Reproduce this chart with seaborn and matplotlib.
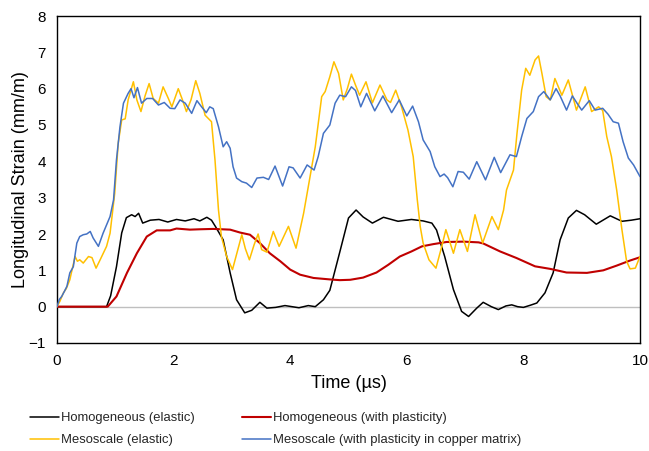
import numpy as np
import pandas as pd
import matplotlib
matplotlib.use("Agg")
import matplotlib.pyplot as plt
import seaborn as sns

# ---- data ----
t_homog_el = [0, 0.85, 0.92, 1.02, 1.11, 1.19, 1.28, 1.34, 1.40, 1.47, 1.6, 1.75, 1.9, 2.05, 2.2, 2.35, 2.45,
              2.57, 2.65, 2.72, 2.85, 2.97, 3.08, 3.22, 3.34, 3.48, 3.6, 3.75, 3.91, 4.03, 4.15, 4.31, 4.43,
              4.57, 4.68, 4.85, 5.0, 5.13, 5.25, 5.41, 5.6, 5.85, 6.08, 6.28, 6.43, 6.51, 6.65, 6.8, 6.94,
              7.06, 7.2, 7.31, 7.45, 7.57, 7.7, 7.8, 7.9, 8.0, 8.12, 8.23, 8.37, 8.51, 8.63, 8.77, 8.91,
              9.05, 9.25, 9.49, 9.69, 9.85, 10.0]
v_homog_el = [0, 0, 0.3, 1.1, 2.03, 2.45, 2.53, 2.48, 2.57, 2.30, 2.38, 2.40, 2.33, 2.40, 2.36, 2.42, 2.36,
              2.46, 2.38, 2.2, 1.84, 0.93, 0.19, -0.17, -0.10, 0.12, -0.04, -0.02, 0.03, 0.0, -0.03, 0.03, 0.0,
              0.19, 0.45, 1.5, 2.44, 2.66, 2.47, 2.30, 2.46, 2.35, 2.40, 2.36, 2.30, 2.11, 1.38, 0.47, -0.13,
              -0.27, -0.04, 0.12, 0.0, -0.08, 0.02, 0.05, 0.0, -0.02, 0.04, 0.10, 0.38, 0.93, 1.84, 2.44, 2.65,
              2.53, 2.27, 2.5, 2.35, 2.38, 2.42]

t_homog_pl = [0, 0.87, 1.02, 1.2, 1.37, 1.54, 1.71, 1.94, 2.05, 2.28, 2.45, 2.68, 2.97, 3.14, 3.31, 3.48,
              3.65, 3.83, 4.0, 4.17, 4.4, 4.68, 4.85, 5.03, 5.25, 5.48, 5.68, 5.88, 6.08, 6.26, 6.45, 6.68,
              6.97, 7.23, 7.31, 7.6, 7.88, 8.2, 8.46, 8.74, 9.09, 9.37, 9.6, 9.83, 10.0]
v_homog_pl = [0, 0, 0.28, 0.93, 1.47, 1.93, 2.10, 2.10, 2.15, 2.12, 2.13, 2.14, 2.12, 2.04, 1.98, 1.75,
              1.47, 1.25, 1.02, 0.88, 0.79, 0.75, 0.73, 0.74, 0.80, 0.94, 1.15, 1.38, 1.52, 1.66, 1.72, 1.78,
              1.79, 1.77, 1.74, 1.52, 1.34, 1.11, 1.04, 0.94, 0.93, 1.0, 1.13, 1.27, 1.36]

t_meso_el = [0, 0.05, 0.11, 0.16, 0.22, 0.31, 0.35, 0.39, 0.45, 0.54, 0.6, 0.67, 0.74, 0.85, 0.91, 0.99,
             1.05, 1.11, 1.17, 1.22, 1.31, 1.37, 1.44, 1.51, 1.58, 1.65, 1.74, 1.82, 1.91, 1.97, 2.08, 2.15,
             2.22, 2.30, 2.38, 2.45, 2.54, 2.65, 2.71, 2.77, 2.82, 2.91, 3.01, 3.09, 3.17, 3.23, 3.3, 3.38,
             3.45, 3.51, 3.6, 3.71, 3.81, 3.97, 4.1, 4.23, 4.31, 4.43, 4.54, 4.6, 4.68, 4.75, 4.83, 4.91,
             4.98, 5.05, 5.12, 5.19, 5.3, 5.41, 5.54, 5.66, 5.72, 5.81, 5.91, 6.02, 6.11, 6.18, 6.23, 6.28,
             6.38, 6.5, 6.6, 6.67, 6.8, 6.91, 7.04, 7.17, 7.3, 7.46, 7.57, 7.66, 7.71, 7.83, 7.89, 7.97,
             8.04, 8.11, 8.2, 8.26, 8.32, 8.39, 8.46, 8.54, 8.66, 8.77, 8.91, 9.06, 9.17, 9.29, 9.36, 9.43,
             9.51, 9.6, 9.69, 9.77, 9.83, 9.92, 10.0]
v_meso_el = [0, 0.15, 0.38, 0.5, 0.74, 1.38, 1.25, 1.29, 1.2, 1.38, 1.35, 1.06, 1.29, 1.66, 2.02, 3.12,
             4.5, 5.14, 5.17, 5.69, 6.19, 5.69, 5.37, 5.8, 6.14, 5.73, 5.6, 6.05, 5.73, 5.5, 6.0, 5.7,
             5.37, 5.7, 6.22, 5.87, 5.27, 5.09, 4.04, 2.66, 1.93, 1.38, 1.02, 1.5, 1.98, 1.6, 1.29, 1.7,
             2.0, 1.57, 1.5, 2.07, 1.66, 2.21, 1.61, 2.57, 3.3, 4.4, 5.78, 5.92, 6.33, 6.74, 6.42, 5.69,
             6.0, 6.4, 6.1, 5.82, 6.19, 5.61, 6.1, 5.69, 5.62, 5.96, 5.5, 4.86, 4.13, 2.94, 2.21, 1.75,
             1.29, 1.06, 1.66, 2.12, 1.47, 2.12, 1.52, 2.53, 1.75, 2.48, 2.12, 2.66, 3.21, 3.76, 4.77, 5.96,
             6.56, 6.37, 6.79, 6.9, 6.4, 5.78, 5.69, 6.28, 5.82, 6.24, 5.41, 6.05, 5.37, 5.5, 5.4, 4.68,
             4.13, 3.21, 2.12, 1.25, 1.04, 1.06, 1.38]

t_meso_pl = [0, 0.04, 0.08, 0.12, 0.17, 0.22, 0.28, 0.34, 0.39, 0.45, 0.51, 0.57, 0.62, 0.71, 0.79, 0.91,
             0.97, 1.02, 1.08, 1.14, 1.22, 1.27, 1.32, 1.38, 1.45, 1.54, 1.64, 1.74, 1.84, 1.94, 2.02, 2.11,
             2.2, 2.31, 2.4, 2.48, 2.56, 2.62, 2.68, 2.77, 2.85, 2.91, 2.97, 3.02, 3.08, 3.17, 3.25, 3.34,
             3.43, 3.54, 3.63, 3.74, 3.87, 3.98, 4.05, 4.17, 4.29, 4.41, 4.48, 4.57, 4.68, 4.77, 4.85, 4.95,
             5.05, 5.12, 5.21, 5.31, 5.45, 5.59, 5.74, 5.87, 6.0, 6.1, 6.2, 6.28, 6.4, 6.48, 6.57, 6.64,
             6.7, 6.79, 6.88, 6.97, 7.07, 7.2, 7.35, 7.5, 7.61, 7.77, 7.88, 7.97, 8.06, 8.17, 8.26, 8.35,
             8.46, 8.56, 8.63, 8.74, 8.84, 8.92, 9.0, 9.13, 9.23, 9.36, 9.45, 9.54, 9.63, 9.71, 9.8, 9.89, 10.0]
v_meso_pl = [0, 0.2, 0.28, 0.4, 0.56, 0.93, 1.1, 1.75, 1.93, 1.98, 2.0, 2.07, 1.89, 1.66, 2.02, 2.48,
             2.94, 4.04, 4.95, 5.6, 5.87, 6.0, 5.75, 6.03, 5.6, 5.73, 5.73, 5.55, 5.62, 5.46, 5.45, 5.69,
             5.6, 5.32, 5.67, 5.5, 5.34, 5.5, 5.45, 4.95, 4.4, 4.54, 4.36, 3.85, 3.54, 3.44, 3.4, 3.28,
             3.54, 3.56, 3.5, 3.87, 3.32, 3.85, 3.82, 3.54, 3.9, 3.76, 4.13, 4.77, 5.0, 5.6, 5.82, 5.78,
             6.05, 5.95, 5.5, 5.87, 5.39, 5.8, 5.34, 5.69, 5.25, 5.52, 5.09, 4.59, 4.27, 3.85, 3.58, 3.65,
             3.55, 3.3, 3.72, 3.7, 3.51, 3.99, 3.49, 4.11, 3.69, 4.18, 4.13, 4.68, 5.18, 5.37, 5.78, 5.92,
             5.69, 6.0, 5.8, 5.41, 5.8, 5.6, 5.41, 5.67, 5.41, 5.46, 5.3, 5.09, 5.05, 4.54, 4.09, 3.9, 3.58]

series_names = ["Homogeneous (elastic)", "Homogeneous (with plasticity)",
                "Mesoscale (elastic)", "Mesoscale (with plasticity in copper matrix)"]
series_t = [t_homog_el, t_homog_pl, t_meso_el, t_meso_pl]
series_v = [v_homog_el, v_homog_pl, v_meso_el, v_meso_pl]
series_colors = ["#000000", "#C00000", "#FFC000", "#4472C4"]
series_lw = [1.1, 1.5, 1.1, 1.1]

x_ticks = [0, 2, 4, 6, 8, 10]
y_ticks = [-1, 0, 1, 2, 3, 4, 5, 6, 7, 8]

# ---- plot ----
sns.set_theme(style="white")
plt.rcParams["font.family"] = ["Liberation Sans", "DejaVu Sans"]

fig = plt.figure(figsize=(6.49, 4.51), dpi=100)
ax = fig.add_axes([57 / 649, 1 - 343 / 451, (640 - 57) / 649, (343 - 16) / 451])

ax.axhline(0, color="#BFBFBF", lw=1.0, zorder=1)

for name, tt, vv, col, lw in zip(series_names, series_t, series_v, series_colors, series_lw):
    df = pd.DataFrame({"t": tt, "v": vv})
    sns.lineplot(data=df, x="t", y="v", ax=ax, color=col, lw=lw, label=name,
                 estimator=None, sort=False, zorder=3)

ax.set_xlim(0, 10)
ax.set_ylim(-1, 8)
ax.set_xticks(x_ticks)
ax.set_yticks(y_ticks)
ax.set_yticklabels(["\u22121" if v < 0 else str(v) for v in y_ticks])
ax.tick_params(axis="both", length=0, labelsize=11, colors="black", pad=8)
ax.set_xlabel("Time (\u00b5s)", fontsize=13, color="black", labelpad=5)
ax.set_ylabel("Longitudinal Strain (mm/m)", fontsize=13, color="black", labelpad=0)
for sp in ax.spines.values():
    sp.set_visible(True)
    sp.set_color("black")
    sp.set_linewidth(1.0)

handles, labels = ax.get_legend_handles_labels()
ax.get_legend().remove()
order = [0, 2, 1, 3]
fig.legend([handles[i] for i in order], [labels[i] for i in order],
           loc="upper left", bbox_to_anchor=(30 / 649, 1 - 412 / 451),
           ncol=2, frameon=False, fontsize=9.4, handlelength=2.2, handletextpad=0.2,
           columnspacing=3.6, labelspacing=0.78, borderpad=0, borderaxespad=0)

fig.savefig("out.png", dpi=100)
